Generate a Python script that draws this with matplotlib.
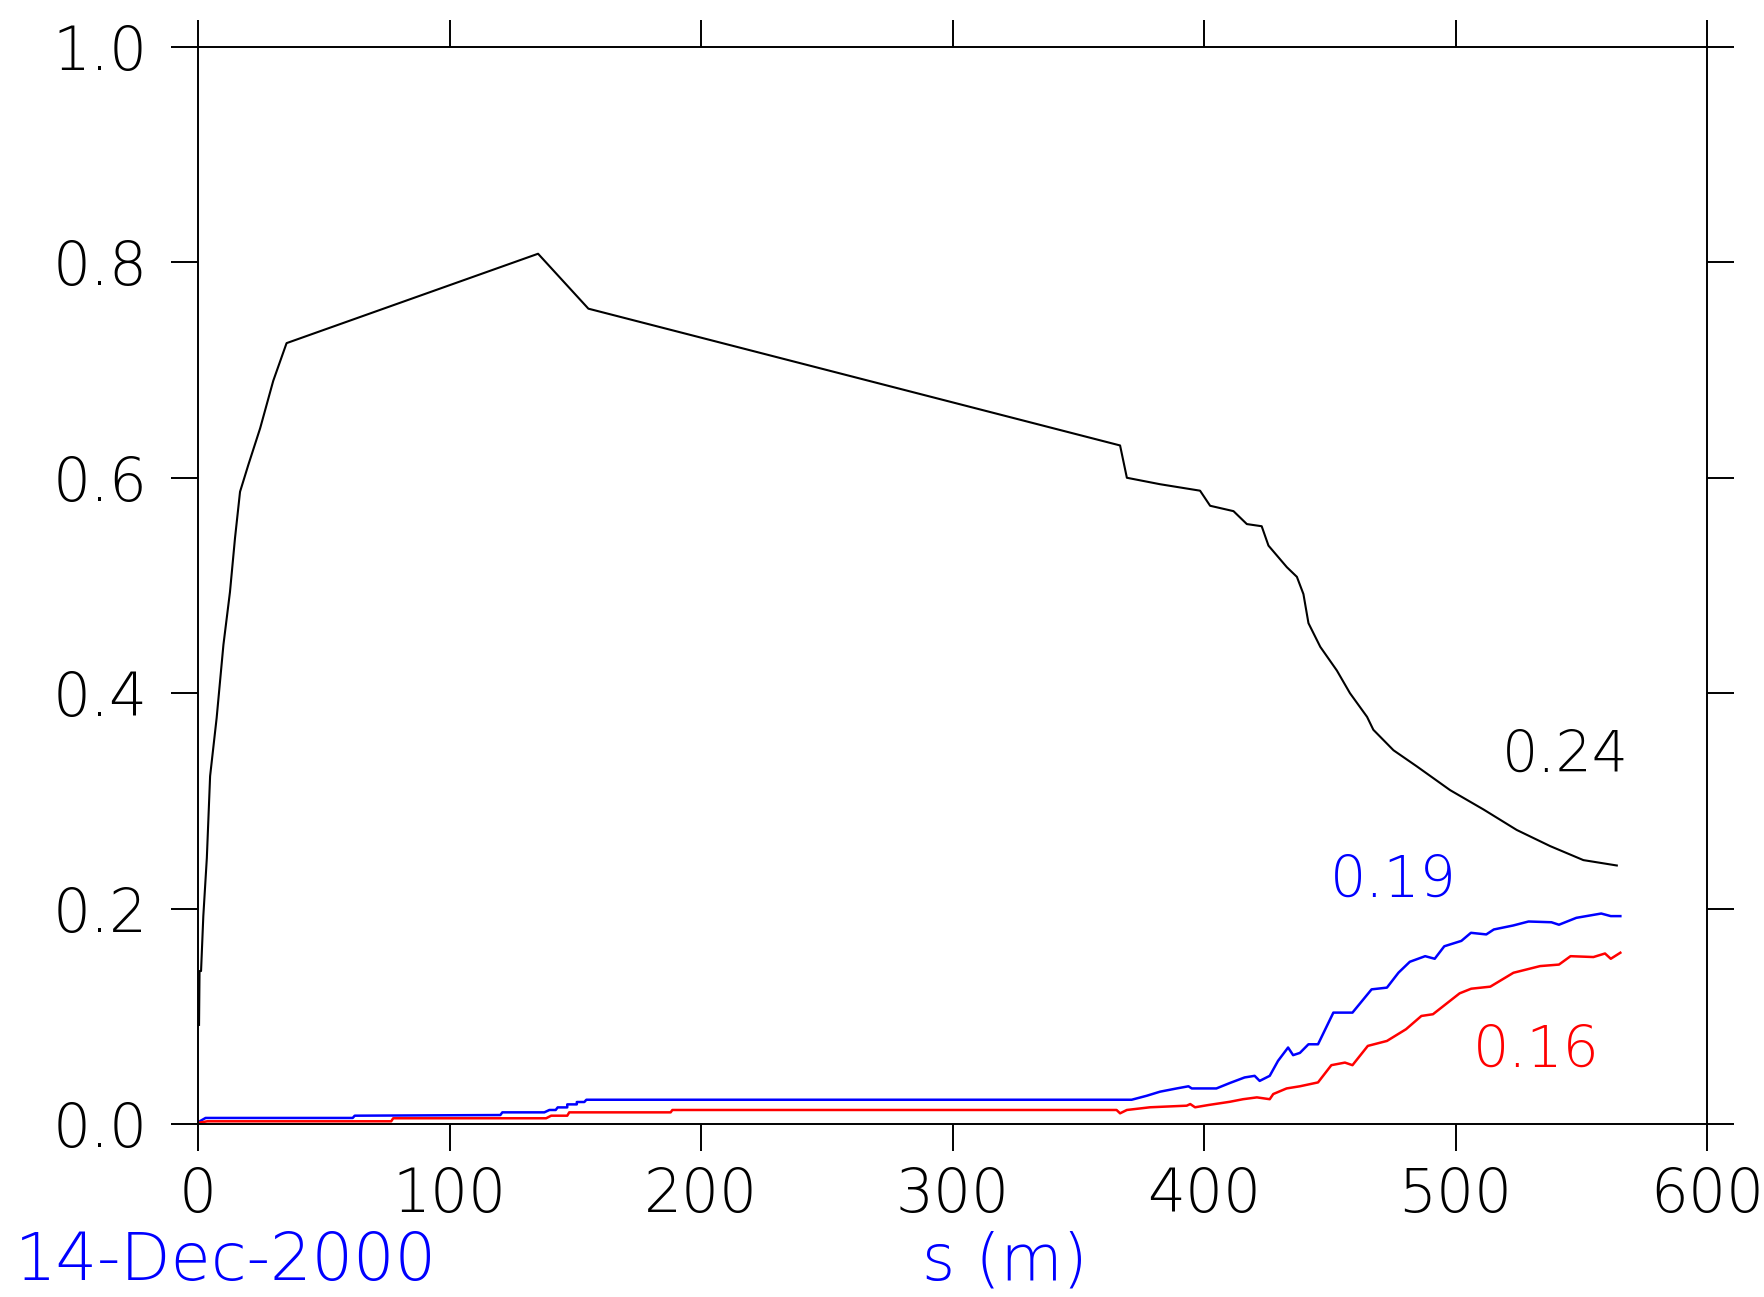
import matplotlib
matplotlib.use("Agg")
import matplotlib.pyplot as plt

plt.rcParams['font.family'] = ['DejaVu Sans']

# distance along section (m) and fraction values
s_black = [0.4, 0.6, 1.2, 2.1, 3.5, 4.8, 7.4, 10.1, 12.7, 14.7, 16.7, 20.0, 24.7, 29.9,
           35.2, 135.2, 155.2, 366.6, 369.3, 382.5, 398.4, 402.4, 411.7, 417.0, 422.9,
           425.6, 432.9, 436.9, 439.5, 441.5, 446.2, 452.8, 458.0, 464.8, 467.3, 475.3,
           484.6, 497.8, 511.1, 524.3, 537.6, 550.8, 564.1]
frac_black = [0.092, 0.142, 0.142, 0.193, 0.247, 0.323, 0.377, 0.445, 0.494, 0.544, 0.587,
              0.612, 0.646, 0.690, 0.725, 0.808, 0.757, 0.630, 0.600, 0.594, 0.588, 0.574,
              0.569, 0.557, 0.555, 0.537, 0.517, 0.508, 0.492, 0.465, 0.443, 0.421, 0.400,
              0.378, 0.366, 0.347, 0.332, 0.310, 0.292, 0.273, 0.258, 0.245, 0.240]

s_blue = [0.0, 3.0, 61.5, 62.3, 120.2, 121.0, 137.7, 139.7, 142.2, 143.0, 146.8, 146.8,
          150.6, 150.6, 153.6, 154.4, 371.2, 377.2, 382.5, 389.1, 393.8, 395.1, 404.9,
          410.2, 416.1, 420.1, 422.1, 426.1, 429.4, 433.4, 435.4, 438.1, 441.5, 445.3,
          451.4, 459.0, 466.6, 472.7, 477.3, 481.8, 487.9, 491.7, 495.5, 502.3, 506.1,
          512.2, 515.2, 522.9, 529.0, 538.1, 541.1, 548.0, 557.9, 561.7, 565.5]
frac_blue = [0.0016, 0.0056, 0.0056, 0.0077, 0.0083, 0.0108, 0.0108, 0.0130, 0.0130, 0.0154,
             0.0154, 0.0182, 0.0182, 0.0204, 0.0204, 0.0225, 0.0225, 0.0262, 0.0300, 0.0330,
             0.0350, 0.0330, 0.0330, 0.0380, 0.0432, 0.0447, 0.0400, 0.0447, 0.0586, 0.0710,
             0.0639, 0.0660, 0.0740, 0.0740, 0.1034, 0.1034, 0.1250, 0.1266, 0.1405, 0.1506,
             0.1558, 0.1534, 0.1650, 0.1700, 0.1775, 0.1760, 0.1806, 0.1843, 0.1880, 0.1873,
             0.1850, 0.1914, 0.1954, 0.1930, 0.1930]

s_red = [0.0, 3.7, 76.8, 77.6, 138.4, 140.4, 146.8, 147.6, 187.9, 188.6, 365.2, 366.6,
         369.3, 378.5, 393.1, 394.5, 396.4, 401.7, 410.2, 415.5, 421.0, 426.1, 427.5, 432.8,
         438.1, 445.3, 450.6, 456.0, 459.0, 465.1, 472.7, 480.3, 486.4, 491.0, 501.6, 506.2,
         513.8, 523.0, 533.6, 541.1, 545.7, 554.8, 559.4, 561.7, 565.5]
frac_red = [0.0010, 0.0025, 0.0025, 0.0053, 0.0053, 0.0077, 0.0077, 0.0108, 0.0108, 0.0130,
            0.0130, 0.0099, 0.0130, 0.0155, 0.0170, 0.0185, 0.0155, 0.0176, 0.0206, 0.0230,
            0.0247, 0.0230, 0.0278, 0.0330, 0.0350, 0.0386, 0.0546, 0.0570, 0.0546, 0.0725,
            0.0771, 0.0880, 0.1003, 0.1019, 0.1213, 0.1256, 0.1275, 0.1404, 0.1466, 0.1480,
            0.1558, 0.1550, 0.1583, 0.1534, 0.1590]

end_labels = ['0.24', '0.19', '0.16']
x_ticks = [0, 100, 200, 300, 400, 500, 600]
y_ticks = [0.0, 0.2, 0.4, 0.6, 0.8, 1.0]

fig = plt.figure(figsize=(17.65, 12.97), dpi=100)
ax = fig.add_axes([0.1122, 0.1334, 0.8550, 0.8304])

ax.plot(s_black, frac_black, color='black', lw=1.5)
ax.plot(s_blue, frac_blue, color='#0000ff', lw=1.8)
ax.plot(s_red, frac_red, color='#ff0000', lw=1.8)

ax.text(518.5, 0.327, end_labels[0], color='black', fontsize=41, fontweight='light')
ax.text(450.0, 0.2114, end_labels[1], color='#0000ff', fontsize=41, fontweight='light')
ax.text(507.0, 0.0528, end_labels[2], color='#ff0000', fontsize=41, fontweight='light')

ax.set_xlim(0, 600)
ax.set_ylim(0, 1.0)
ax.set_xticks(x_ticks)
ax.set_xticklabels([str(v) for v in x_ticks])
ax.set_yticks(y_ticks)
ax.set_yticklabels([f'{v:.1f}' for v in y_ticks])

ax.tick_params(axis='both', which='major', direction='out', length=19.5, width=1.4,
               labelsize=43, top=True, right=True)
ax.tick_params(axis='x', pad=11)
ax.tick_params(axis='y', pad=17)
for lab in ax.get_xticklabels() + ax.get_yticklabels():
    lab.set_fontweight('light')
for sp in ax.spines.values():
    sp.set_linewidth(1.4)

fig.text(1005 / 1765, 1 - 1262 / 1297, 's (m)', color='#0000ff', fontsize=46,
         ha='center', va='center', fontweight='light')
fig.text(15 / 1765, 1 - 1262 / 1297, '14-Dec-2000', color='#0000ff', fontsize=47,
         ha='left', va='center', fontweight='light')

fig.savefig('out.png', dpi=100)
